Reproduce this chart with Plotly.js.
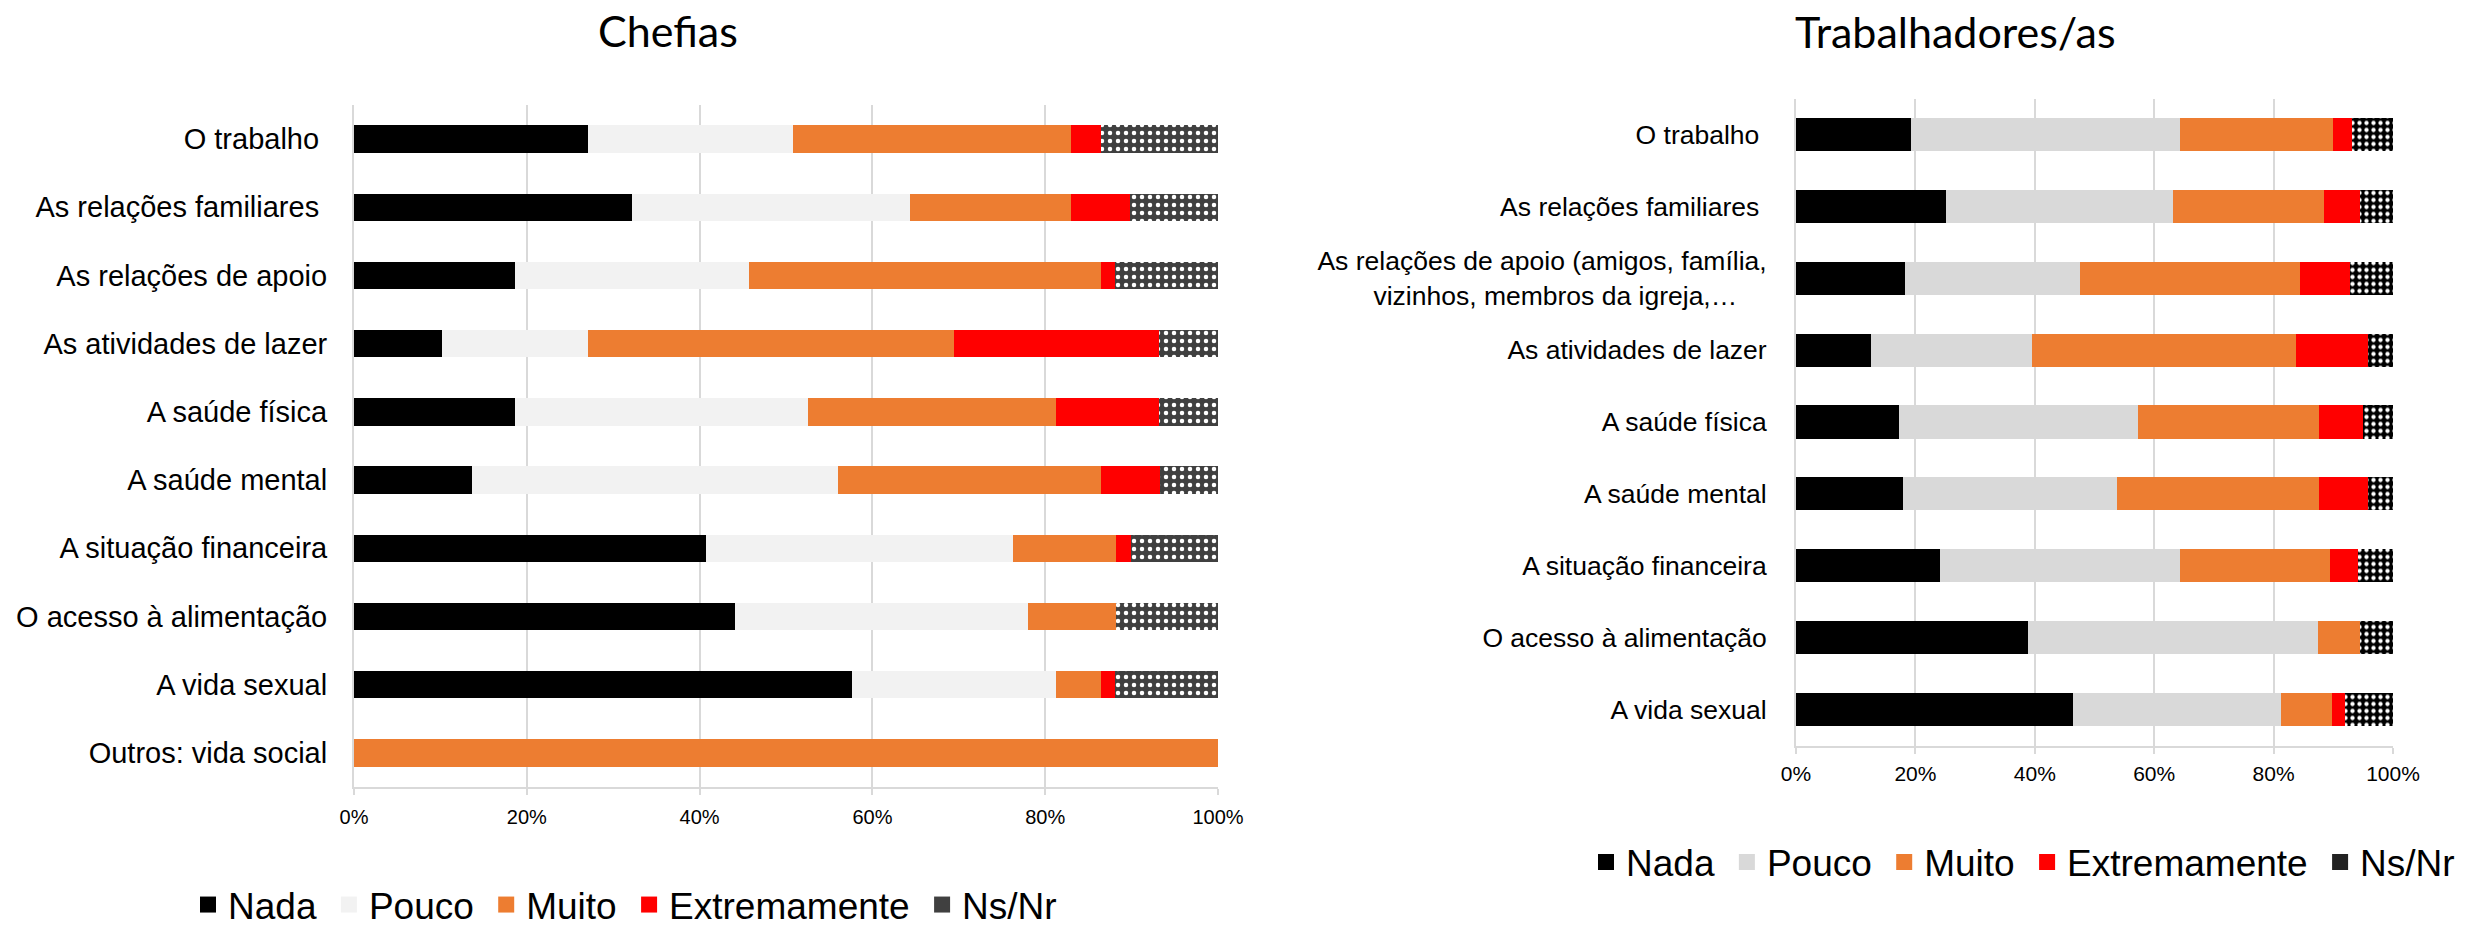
<!DOCTYPE html>
<html>
<head>
<meta charset="utf-8">
<script src="https://cdn.plot.ly/plotly-3.0.1.min.js"></script>
<style>
  html, body { margin: 0; padding: 0; background: #ffffff; }
  #chart { width: 2476px; height: 928px; }
</style>
</head>
<body>
<div id="chart"></div>
<script>
// ---------------- DATA ----------------
const seriesNames = ["Nada", "Pouco", "Muito", "Extremamente", "Ns/Nr"];

// Chefias (left chart)
const catsChefias = [
  "O trabalho\u00a0",
  "As relações familiares\u00a0",
  "As relações de apoio",
  "As atividades de lazer",
  "A saúde física",
  "A saúde mental",
  "A situação financeira",
  "O acesso à alimentação",
  "A vida sexual",
  "Outros: vida social"
];
const chefiasNada   = [27.1, 32.2, 18.6, 10.2, 18.6, 13.6, 40.7, 44.1, 57.6, 0];
const chefiasPouco  = [23.7, 32.2, 27.1, 16.9, 33.9, 42.4, 35.6, 33.9, 23.7, 0];
const chefiasMuito  = [32.2, 18.6, 40.7, 42.4, 28.8, 30.5, 11.9, 10.2, 5.1, 100];
const chefiasExtrem = [3.4, 6.8, 1.7, 23.7, 11.9, 6.8, 1.7, 0, 1.7, 0];
const chefiasNsNr   = [13.6, 10.2, 11.9, 6.8, 6.8, 6.8, 10.2, 11.9, 11.9, 0];

// Trabalhadores/as (right chart)
const catsTrab = [
  "O trabalho\u00a0",
  "As relações familiares\u00a0",
  "As relações de apoio (amigos, família,<br>vizinhos, membros da igreja,…\u00a0\u00a0\u00a0\u00a0",
  "As atividades de lazer",
  "A saúde física",
  "A saúde mental",
  "A situação financeira",
  "O acesso à alimentação",
  "A vida sexual"
];
const trabNada   = [19.2, 25.1, 18.3, 12.6, 17.3, 18.0, 24.2, 38.8, 46.4];
const trabPouco  = [45.2, 38.1, 29.3, 26.9, 40.0, 35.8, 40.2, 48.7, 34.9];
const trabMuito  = [25.6, 25.2, 36.8, 44.3, 30.3, 33.8, 25.1, 6.9, 8.5];
const trabExtrem = [3.2, 6.0, 8.4, 12.0, 7.4, 8.2, 4.6, 0, 2.1];
const trabNsNr   = [6.8, 5.6, 7.2, 4.2, 5.0, 4.2, 5.9, 5.6, 8.1];

const xTicks = [0, 20, 40, 60, 80, 100];
const xTickText = ["0%", "20%", "40%", "60%", "80%", "100%"];

// ---------------- STYLE ----------------
const W = 2476, H = 928;
const px2x = p => p / W;
const px2y = p => 1 - p / H;

const leftColors  = ["#000000", "#F2F2F2", "#ED7D31", "#FF0000", "#404040"];
const rightColors = ["#000000", "#D9D9D9", "#ED7D31", "#FF0000", "#000000"];

function makeBars(cats, seriesVals, colors, xa, ya, barWidth, patSize, patSolid) {
  return seriesVals.map((vals, i) => {
    const marker = { color: colors[i], line: { width: 0 } };
    if (i === 4) {
      marker.pattern = { shape: ".", fgcolor: "#ffffff", bgcolor: colors[i], size: patSize, solidity: patSolid };
    }
    return {
      type: "bar", orientation: "h",
      name: seriesNames[i],
      y: cats, x: vals,
      xaxis: xa, yaxis: ya,
      width: barWidth,
      marker: marker,
      showlegend: false,
      hoverinfo: "skip"
    };
  });
}

function makeLegendProxies(colors, xa, ya, legendId, nsColor) {
  return seriesNames.map((n, i) => ({
    type: "scatter", mode: "markers",
    name: n + "\u2009",
    x: [null], y: [null],
    xaxis: xa, yaxis: ya,
    legend: legendId,
    marker: { symbol: "square", size: 16, color: i === 4 ? nsColor : colors[i], line: { width: 0 } },
    showlegend: true,
    hoverinfo: "skip"
  }));
}

const data = []
  .concat(makeBars(catsChefias, [chefiasNada, chefiasPouco, chefiasMuito, chefiasExtrem, chefiasNsNr], leftColors, "x", "y", 0.4, 8, 0.25))
  .concat(makeBars(catsTrab, [trabNada, trabPouco, trabMuito, trabExtrem, trabNsNr], rightColors, "x2", "y2", 0.46, 7, 0.3))
  .concat(makeLegendProxies(leftColors, "x", "y", "legend", "#404040"))
  .concat(makeLegendProxies(rightColors, "x2", "y2", "legend2", "#222222"));

const labelFont = "Liberation Sans, Arial, sans-serif";
const gridColor = "#D9D9D9";

function xAxisCfg(domain, tickSize, anchor, standoff) {
  return {
    domain: domain, anchor: anchor,
    range: [0, 100], fixedrange: true,
    tickmode: "array", tickvals: xTicks, ticktext: xTickText,
    showgrid: true, gridcolor: gridColor, gridwidth: 2,
    zeroline: false,
    showline: true, linecolor: gridColor, linewidth: 2,
    ticks: "outside", ticklen: 6, tickcolor: gridColor, tickwidth: 2,
    ticklabelstandoff: standoff,
    tickfont: { family: labelFont, size: tickSize, color: "#000000" }
  };
}
function yAxisCfg(domain, nCats, fontSize, anchor, standoff) {
  return {
    domain: domain, anchor: anchor,
    type: "category",
    range: [nCats - 0.5, -0.5], fixedrange: true,
    showgrid: false, zeroline: false,
    showline: true, linecolor: gridColor, linewidth: 2,
    ticks: "", ticklabelstandoff: standoff,
    tickfont: { family: labelFont, size: fontSize, color: "#000000" }
  };
}

const layout = {
  width: W, height: H,
  paper_bgcolor: "#ffffff", plot_bgcolor: "#ffffff",
  margin: { l: 0, r: 0, t: 0, b: 0, autoexpand: false },
  barmode: "stack",
  xaxis:  xAxisCfg([px2x(354), px2x(1218)], 20, "y", 5),
  yaxis:  yAxisCfg([px2y(787), px2y(105)], catsChefias.length, 29, "x", 19),
  xaxis2: xAxisCfg([px2x(1796), px2x(2393)], 21, "y2", 2),
  yaxis2: yAxisCfg([px2y(745.5), px2y(98.5)], catsTrab.length, 26.5, "x2", 22),
  legend: {
    orientation: "h", x: px2x(188), xanchor: "left", y: px2y(905), yanchor: "middle",
    font: { family: labelFont, size: 37, color: "#000000" },
    itemsizing: "trace", bgcolor: "rgba(0,0,0,0)", traceorder: "normal"
  },
  legend2: {
    orientation: "h", x: px2x(1586), xanchor: "left", y: px2y(862.5), yanchor: "middle",
    font: { family: labelFont, size: 37, color: "#000000" },
    itemsizing: "trace", bgcolor: "rgba(0,0,0,0)", traceorder: "normal"
  },
  annotations: [
    { text: "Chefias", xref: "paper", yref: "paper", x: px2x(668), y: px2y(30),
      xanchor: "center", yanchor: "middle", showarrow: false,
      font: { family: "Lato, Open Sans, sans-serif", size: 43, color: "#000000" } },
    { text: "Trabalhadores/as", xref: "paper", yref: "paper", x: px2x(1955), y: px2y(32),
      xanchor: "center", yanchor: "middle", showarrow: false,
      font: { family: "Lato, Open Sans, sans-serif", size: 43, color: "#000000" } }
  ]
};

Plotly.newPlot("chart", data, layout, { staticPlot: true, displayModeBar: false });
</script>
</body>
</html>
